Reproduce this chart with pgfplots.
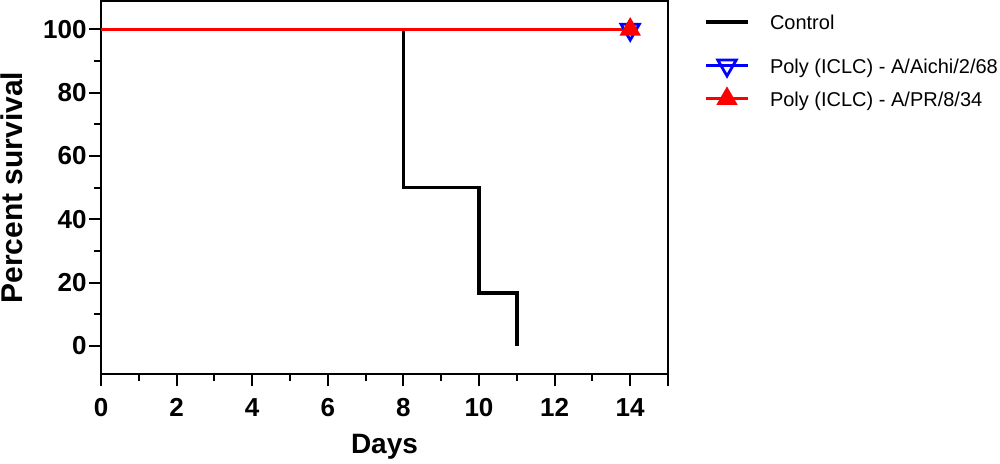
\documentclass[border=0pt]{standalone}
\usepackage{fontspec}
\setmainfont{Liberation Sans}
\usepackage{pgfplots}
\pgfplotsset{compat=1.18}
\begin{document}
\begin{tikzpicture}
\begin{axis}[
  scale only axis,
  width=283.5pt, height=186.65pt,
  xmin=0, xmax=15, ymin=-9, ymax=109,
  axis line style={line width=1pt},
  tick pos=left,
  tick align=outside,
  xtick={0,2,...,14},
  extra x ticks={15}, extra x tick labels={},
  extra x tick style={major tick length=6pt},
  minor x tick num=1,
  ytick={0,20,...,100},
  minor y tick num=1,
  major tick length=6pt, minor tick length=3.25pt,
  every tick/.style={line width=1pt, black},
  /pgf/number format/assume math mode=true,
  ticklabel style={font=\fontsize{13}{13}\selectfont\bfseries},
  xticklabel style={inner sep=0pt, yshift=-6pt},
  yticklabel style={inner sep=0pt, xshift=-1pt},
  xlabel={Days}, ylabel={Percent survival},
  xlabel style={font=\fontsize{14}{14}\selectfont\bfseries, at={(axis description cs:0.5,0)}, anchor=base, yshift=-39.5pt},
  ylabel style={font=\fontsize{15}{15}\selectfont\bfseries, at={(axis description cs:-0.1376,0.5)}, anchor=base},
  legend image code/.code={
    \path[draw=none, fill=none] (0pt,0pt) -- (21pt,0pt);
    \draw[overlay, mark repeat=2, mark phase=2, #1] plot coordinates {(0pt,4pt) (10.5pt,4pt) (21pt,4pt)};
  },
  legend style={at={(axis description cs:1,1)}, anchor=north west, draw=none, fill=none,
    inner sep=0pt, outer sep=0pt, xshift=19pt, yshift=-7pt,
    font=\fontsize{10}{10}\selectfont, row sep=6.7pt, column sep=11pt,
    nodes={inner sep=0pt, text height=7.5pt, text depth=2.5pt}},
  legend cell align=left,
  legend style={cells={anchor=base west}},
]
\addplot[black, line width=1.7pt, const plot] coordinates {(0,100) (8,50) (10,16.67) (11,0)};
\addlegendentry[text depth=7.5pt]{Control}
\addplot[blue, line width=1.7pt, mark=triangle, mark indices={2},
  mark options={rotate=180, solid, line width=1.4pt, mark size=5.3pt, fill=white}] coordinates {(0,100) (14,100)};
\addlegendentry{Poly (ICLC) - A/Aichi/2/68}
\addplot[red, line width=1.7pt, mark=triangle*, mark indices={2},
  mark options={solid, mark size=4.5pt}] coordinates {(0,100) (14,100)};
\addlegendentry{Poly (ICLC) - A/PR/8/34}
\end{axis}
\pgfresetboundingbox
\path ([xshift=-50.5pt,yshift=-44.85pt]current axis.south west) rectangle ([xshift=166pt,yshift=0.5pt]current axis.north east);
\end{tikzpicture}
\end{document}
